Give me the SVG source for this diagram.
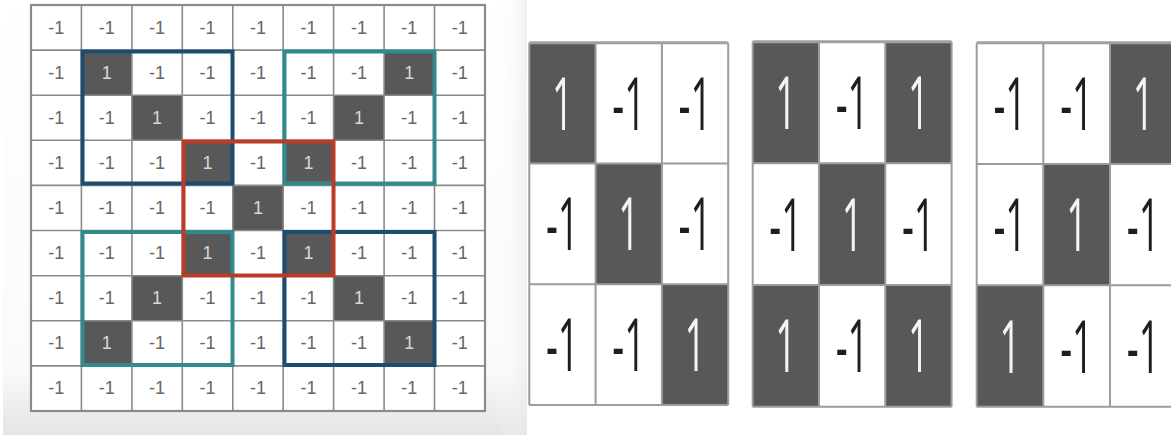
<svg xmlns="http://www.w3.org/2000/svg" width="1171" height="435" viewBox="0 0 1171 435">
<defs>
<linearGradient id="bgL" x1="0" y1="0" x2="0" y2="1">
<stop offset="0" stop-color="#ffffff"/>
<stop offset="0.85" stop-color="#fafafa"/>
<stop offset="1" stop-color="#e4e4e6"/>
</linearGradient>
<linearGradient id="bgS" x1="0" y1="0" x2="1" y2="0">
<stop offset="0" stop-color="#ffffff" stop-opacity="0"/>
<stop offset="1" stop-color="#e9e9eb" stop-opacity="0.6"/>
</linearGradient>
</defs>
<style>
.dk{fill:#585858}
.gl{stroke:#8a8a8a;stroke-width:1.6;fill:none}
.s{font-family:"Liberation Sans",Arial,sans-serif;font-size:18px;text-anchor:middle;fill:#666666}
.sw{font-family:"Liberation Sans",Arial,sans-serif;font-size:18px;text-anchor:middle;fill:#d8d8d8}
.box{fill:none;stroke-width:4}
.blue{stroke:#1d4c6c}
.teal{stroke:#338a8a}
.red{stroke:#bb3b26}
.ml{stroke:#9c9c9c;stroke-width:2;fill:none}
.mt{stroke:#a0a0a0;stroke-width:3;fill:none}
.b{font-family:"Open Sans","Liberation Sans",sans-serif;font-weight:400;font-size:74px;text-anchor:middle;fill:#1e1e1e}
.bw{font-family:"Open Sans","Liberation Sans",sans-serif;font-weight:400;font-size:74px;text-anchor:middle;fill:#f4f4f4}
</style>
<rect x="0" y="0" width="1171" height="435" fill="#ffffff"/>
<rect x="3" y="0" width="524" height="435" fill="url(#bgL)"/>
<rect x="495" y="0" width="32" height="435" fill="url(#bgS)"/>

<g id="input-grid">
<rect x="31" y="5" width="454" height="406" fill="#ffffff"/>
<rect class="dk" x="81.4" y="50.1" width="50.5" height="45.2"/>
<rect class="dk" x="384.1" y="50.1" width="50.5" height="45.2"/>
<rect class="dk" x="131.9" y="95.2" width="50.5" height="45.2"/>
<rect class="dk" x="333.6" y="95.2" width="50.5" height="45.2"/>
<rect class="dk" x="182.3" y="140.3" width="50.5" height="45.2"/>
<rect class="dk" x="283.2" y="140.3" width="50.5" height="45.2"/>
<rect class="dk" x="232.8" y="185.4" width="50.5" height="45.2"/>
<rect class="dk" x="182.3" y="230.5" width="50.5" height="45.2"/>
<rect class="dk" x="283.2" y="230.5" width="50.5" height="45.2"/>
<rect class="dk" x="131.9" y="275.7" width="50.5" height="45.2"/>
<rect class="dk" x="333.6" y="275.7" width="50.5" height="45.2"/>
<rect class="dk" x="81.4" y="320.8" width="50.5" height="45.2"/>
<rect class="dk" x="384.1" y="320.8" width="50.5" height="45.2"/>
<path class="gl" d="M31 5V411M81.4 5V411M131.9 5V411M182.3 5V411M232.8 5V411M283.2 5V411M333.6 5V411M384.1 5V411M434.5 5V411M485 5V411M31 5H485M31 50.1H485M31 95.2H485M31 140.3H485M31 185.4H485M31 230.5H485M31 275.7H485M31 320.8H485M31 365.9H485M31 411H485"/>
<rect x="31" y="5" width="454" height="406" fill="none" stroke="#8a8a8a" stroke-width="2.2"/>

<text class="s" x="56.2" y="33.6">-1</text><text class="s" x="106.7" y="33.6">-1</text><text class="s" x="157.1" y="33.6">-1</text><text class="s" x="207.5" y="33.6">-1</text><text class="s" x="258" y="33.6">-1</text><text class="s" x="308.4" y="33.6">-1</text><text class="s" x="358.9" y="33.6">-1</text><text class="s" x="409.3" y="33.6">-1</text><text class="s" x="459.8" y="33.6">-1</text>

<text class="s" x="56.2" y="78.7">-1</text><text class="sw" x="106.7" y="78.7">1</text><text class="s" x="157.1" y="78.7">-1</text><text class="s" x="207.5" y="78.7">-1</text><text class="s" x="258" y="78.7">-1</text><text class="s" x="308.4" y="78.7">-1</text><text class="s" x="358.9" y="78.7">-1</text><text class="sw" x="409.3" y="78.7">1</text><text class="s" x="459.8" y="78.7">-1</text>

<text class="s" x="56.2" y="123.8">-1</text><text class="s" x="106.7" y="123.8">-1</text><text class="sw" x="157.1" y="123.8">1</text><text class="s" x="207.5" y="123.8">-1</text><text class="s" x="258" y="123.8">-1</text><text class="s" x="308.4" y="123.8">-1</text><text class="sw" x="358.9" y="123.8">1</text><text class="s" x="409.3" y="123.8">-1</text><text class="s" x="459.8" y="123.8">-1</text>

<text class="s" x="56.2" y="168.9">-1</text><text class="s" x="106.7" y="168.9">-1</text><text class="s" x="157.1" y="168.9">-1</text><text class="sw" x="207.5" y="168.9">1</text><text class="s" x="258" y="168.9">-1</text><text class="sw" x="308.4" y="168.9">1</text><text class="s" x="358.9" y="168.9">-1</text><text class="s" x="409.3" y="168.9">-1</text><text class="s" x="459.8" y="168.9">-1</text>

<text class="s" x="56.2" y="214">-1</text><text class="s" x="106.7" y="214">-1</text><text class="s" x="157.1" y="214">-1</text><text class="s" x="207.5" y="214">-1</text><text class="sw" x="258" y="214">1</text><text class="s" x="308.4" y="214">-1</text><text class="s" x="358.9" y="214">-1</text><text class="s" x="409.3" y="214">-1</text><text class="s" x="459.8" y="214">-1</text>

<text class="s" x="56.2" y="259.1">-1</text><text class="s" x="106.7" y="259.1">-1</text><text class="s" x="157.1" y="259.1">-1</text><text class="sw" x="207.5" y="259.1">1</text><text class="s" x="258" y="259.1">-1</text><text class="sw" x="308.4" y="259.1">1</text><text class="s" x="358.9" y="259.1">-1</text><text class="s" x="409.3" y="259.1">-1</text><text class="s" x="459.8" y="259.1">-1</text>

<text class="s" x="56.2" y="304.2">-1</text><text class="s" x="106.7" y="304.2">-1</text><text class="sw" x="157.1" y="304.2">1</text><text class="s" x="207.5" y="304.2">-1</text><text class="s" x="258" y="304.2">-1</text><text class="s" x="308.4" y="304.2">-1</text><text class="sw" x="358.9" y="304.2">1</text><text class="s" x="409.3" y="304.2">-1</text><text class="s" x="459.8" y="304.2">-1</text>

<text class="s" x="56.2" y="349.3">-1</text><text class="sw" x="106.7" y="349.3">1</text><text class="s" x="157.1" y="349.3">-1</text><text class="s" x="207.5" y="349.3">-1</text><text class="s" x="258" y="349.3">-1</text><text class="s" x="308.4" y="349.3">-1</text><text class="s" x="358.9" y="349.3">-1</text><text class="sw" x="409.3" y="349.3">1</text><text class="s" x="459.8" y="349.3">-1</text>

<text class="s" x="56.2" y="394.4">-1</text><text class="s" x="106.7" y="394.4">-1</text><text class="s" x="157.1" y="394.4">-1</text><text class="s" x="207.5" y="394.4">-1</text><text class="s" x="258" y="394.4">-1</text><text class="s" x="308.4" y="394.4">-1</text><text class="s" x="358.9" y="394.4">-1</text><text class="s" x="409.3" y="394.4">-1</text><text class="s" x="459.8" y="394.4">-1</text>
</g>

<g id="highlight-boxes">
<rect id="box-tl" class="box blue" x="82.5" y="51.5" width="150" height="132"/>
<rect id="box-tr" class="box teal" x="284.5" y="51.5" width="150" height="132"/>
<rect id="box-bl" class="box teal" x="82.5" y="232" width="150" height="133"/>
<rect id="box-br" class="box blue" x="284.5" y="232" width="150" height="133"/>
<rect id="box-center" class="box red" x="183.5" y="141.5" width="150" height="134"/>
</g>

<g id="filter-1">
<rect x="529.3" y="42.7" width="198.9" height="362.3" fill="#ffffff"/>
<rect class="dk" x="529.3" y="42.7" width="66.3" height="120.8"/>
<rect class="dk" x="595.6" y="163.5" width="66.3" height="120.8"/>
<rect class="dk" x="661.9" y="284.3" width="66.3" height="120.7"/>
<path class="ml" d="M529.3 42.7V405M595.6 42.7V405M661.9 42.7V405M728.2 42.7V405M529.3 163.5H728.2M529.3 284.3H728.2M529.3 405H728.2"/>
<path class="mt" d="M529.3 42.7H728.2"/>
<text class="bw" transform="translate(562.5 129.6) scale(0.5 1)">1</text>
<text class="b" transform="translate(628.8 129.6) scale(0.5 1)">-1</text>
<text class="b" transform="translate(695.1 129.6) scale(0.5 1)">-1</text>
<text class="b" transform="translate(562.5 250.4) scale(0.5 1)">-1</text>
<text class="bw" transform="translate(628.8 250.4) scale(0.5 1)">1</text>
<text class="b" transform="translate(695.1 250.4) scale(0.5 1)">-1</text>
<text class="b" transform="translate(562.5 371.2) scale(0.5 1)">-1</text>
<text class="b" transform="translate(628.8 371.2) scale(0.5 1)">-1</text>
<text class="bw" transform="translate(695.1 371.2) scale(0.5 1)">1</text>
</g>

<g id="filter-2">
<rect x="752.7" y="41.7" width="198.9" height="365" fill="#ffffff"/>
<rect class="dk" x="752.7" y="41.7" width="66.3" height="121.6"/>
<rect class="dk" x="885.3" y="41.7" width="66.3" height="121.6"/>
<rect class="dk" x="819" y="163.3" width="66.3" height="121.7"/>
<rect class="dk" x="752.7" y="285" width="66.3" height="121.7"/>
<rect class="dk" x="885.3" y="285" width="66.3" height="121.7"/>
<path class="ml" d="M752.7 41.7V406.7M819 41.7V406.7M885.3 41.7V406.7M951.6 41.7V406.7M752.7 163.3H951.6M752.7 285H951.6M752.7 406.7H951.6"/>
<path class="mt" d="M752.7 41.7H951.6"/>
<text class="bw" transform="translate(785.9 129) scale(0.5 1)">1</text>
<text class="b" transform="translate(852.2 129) scale(0.5 1)">-1</text>
<text class="bw" transform="translate(918.5 129) scale(0.5 1)">1</text>
<text class="b" transform="translate(785.9 250.7) scale(0.5 1)">-1</text>
<text class="bw" transform="translate(852.2 250.7) scale(0.5 1)">1</text>
<text class="b" transform="translate(918.5 250.7) scale(0.5 1)">-1</text>
<text class="bw" transform="translate(785.9 372.4) scale(0.5 1)">1</text>
<text class="b" transform="translate(852.2 372.4) scale(0.5 1)">-1</text>
<text class="bw" transform="translate(918.5 372.4) scale(0.5 1)">1</text>
</g>

<g id="filter-3">
<rect x="976.7" y="42.7" width="200" height="364" fill="#ffffff"/>
<rect class="dk" x="1110" y="42.7" width="66.7" height="121.3"/>
<rect class="dk" x="1043.3" y="164" width="66.7" height="121.3"/>
<rect class="dk" x="976.7" y="285.3" width="66.6" height="121.4"/>
<path class="ml" d="M976.7 42.7V406.7M1043.3 42.7V406.7M1110 42.7V406.7M976.7 164H1171M976.7 285.3H1171M976.7 406.7H1171"/>
<path class="mt" d="M976.7 42.7H1171"/>
<text class="b" transform="translate(1010 129.9) scale(0.5 1)">-1</text>
<text class="b" transform="translate(1076.7 129.9) scale(0.5 1)">-1</text>
<text class="bw" transform="translate(1143.4 129.9) scale(0.5 1)">1</text>
<text class="b" transform="translate(1010 251.2) scale(0.5 1)">-1</text>
<text class="bw" transform="translate(1076.7 251.2) scale(0.5 1)">1</text>
<text class="b" transform="translate(1143.4 251.2) scale(0.5 1)">-1</text>
<text class="bw" transform="translate(1010 372.5) scale(0.5 1)">1</text>
<text class="b" transform="translate(1076.7 372.5) scale(0.5 1)">-1</text>
<text class="b" transform="translate(1143.4 372.5) scale(0.5 1)">-1</text>
</g>

<g id="connectors"></g>
</svg>
